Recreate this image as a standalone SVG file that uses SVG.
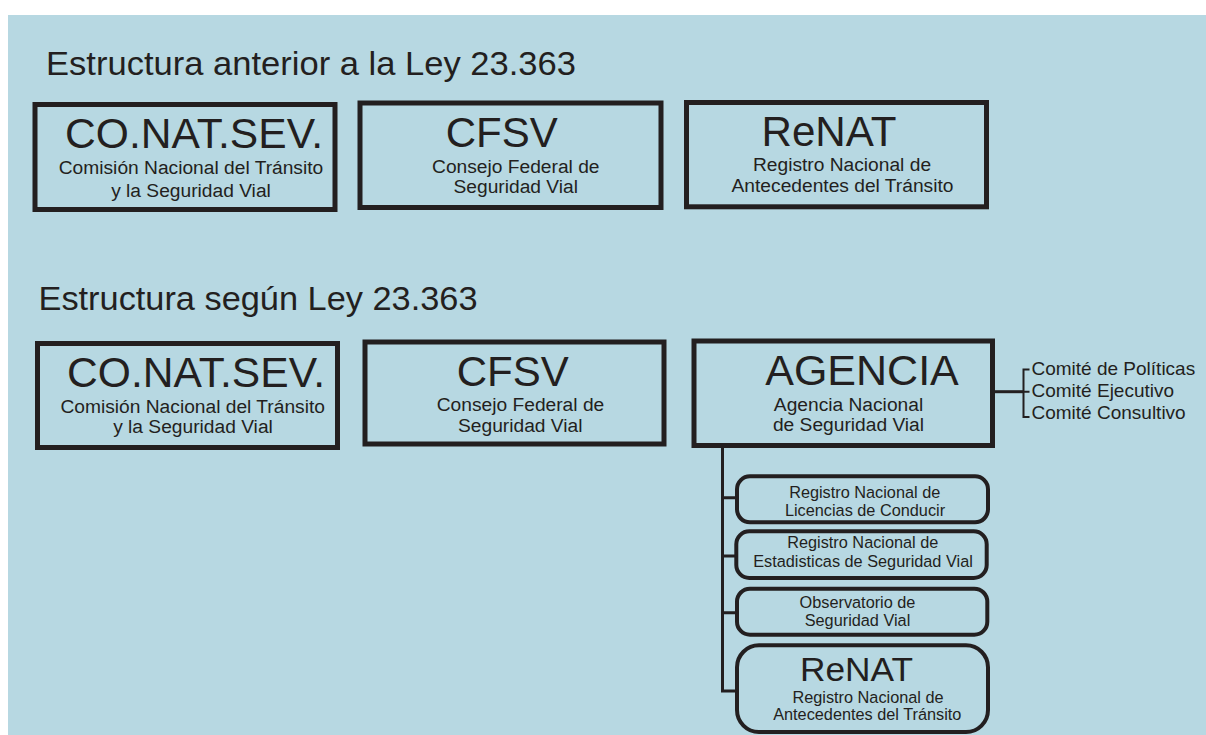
<svg xmlns="http://www.w3.org/2000/svg" width="1206" height="735" viewBox="0 0 1206 735">
<style>
text{font-family:"Liberation Sans",Arial,sans-serif;fill:#231f20;}
.title{font-size:34px;}
.big{font-size:42px;text-anchor:middle;}
.sub{font-size:19.2px;text-anchor:middle;}
.small{font-size:16.3px;text-anchor:middle;}
.com{font-size:19px;}
.box{fill:none;stroke:#231f20;stroke-width:5;}
.rbox{fill:none;stroke:#231f20;stroke-width:4;}
.conn{fill:none;stroke:#231f20;stroke-width:3;}
.brk{fill:none;stroke:#231f20;stroke-width:2;}
</style>
<rect x="0" y="0" width="1206" height="735" fill="#ffffff"/>
<rect x="8" y="15" width="1198" height="720" fill="#b7d8e2"/>

<text id="title1" class="title" x="46" y="75" textLength="530" lengthAdjust="spacingAndGlyphs">Estructura anterior a la Ley 23.363</text>
<text id="title2" class="title" x="38.5" y="310" textLength="439" lengthAdjust="spacingAndGlyphs">Estructura según Ley 23.363</text>

<g id="conn">
<path class="conn" d="M722.5 448 V691.5 M721 497.7 H737 M721 556 H737 M721 612.7 H737 M721 691 H737"/>
<path class="conn" d="M995 391.7 H1023.5"/>
<path class="brk" d="M1029.5 369.5 H1023.5 V417 H1029.5 M1023.5 391.7 H1029.5"/>
</g>

<g id="conatsev1">
<rect class="box" x="35" y="104.5" width="300" height="105"/>
<text class="big" x="194" y="148.3" textLength="258" lengthAdjust="spacingAndGlyphs">CO.NAT.SEV.</text>
<text class="sub" x="191" y="174">Comisión Nacional del Tránsito</text>
<text class="sub" x="191" y="196.7">y la Seguridad Vial</text>
</g>

<g id="cfsv1">
<rect class="box" x="360" y="103" width="301" height="104.5"/>
<text class="big" x="501.7" y="146.7">CFSV</text>
<text class="sub" x="515.8" y="172.7">Consejo Federal de</text>
<text class="sub" x="515.8" y="192.7">Seguridad Vial</text>
</g>

<g id="renat1">
<rect class="box" x="686.5" y="102.5" width="300" height="104.3"/>
<text class="big" x="829" y="146" textLength="135" lengthAdjust="spacingAndGlyphs">ReNAT</text>
<text class="sub" x="842" y="170.7">Registro Nacional de</text>
<text class="sub" x="842.5" y="191.7">Antecedentes del Tránsito</text>
</g>

<g id="conatsev2">
<rect class="box" x="37.5" y="343.5" width="300" height="104"/>
<text class="big" x="196" y="387.3" textLength="258" lengthAdjust="spacingAndGlyphs">CO.NAT.SEV.</text>
<text class="sub" x="192.7" y="412.7">Comisión Nacional del Tránsito</text>
<text class="sub" x="193" y="433.3">y la Seguridad Vial</text>
</g>

<g id="cfsv2">
<rect class="box" x="365" y="342" width="299" height="102"/>
<text class="big" x="512.7" y="386.3">CFSV</text>
<text class="sub" x="520.5" y="411">Consejo Federal de</text>
<text class="sub" x="520.3" y="432">Seguridad Vial</text>
</g>

<g id="agencia">
<rect class="box" x="694" y="341" width="298.5" height="104.5"/>
<text class="big" x="862" y="385" style="font-size:43px">AGENCIA</text>
<text class="sub" x="848.5" y="410.7">Agencia Nacional</text>
<text class="sub" x="848.5" y="430.7">de Seguridad Vial</text>
</g>

<g id="comites">
<text class="com" x="1031.5" y="375">Comité de Políticas</text>
<text class="com" x="1031.5" y="397">Comité Ejecutivo</text>
<text class="com" x="1031.5" y="419">Comité Consultivo</text>
</g>

<g id="licencias">
<rect class="rbox" x="737" y="476.3" width="251" height="46" rx="13"/>
<text class="small" x="864.7" y="498.3">Registro Nacional de</text>
<text class="small" x="865" y="516">Licencias de Conducir</text>
</g>

<g id="estadisticas">
<rect class="rbox" x="736.3" y="531.3" width="250.4" height="46.7" rx="13"/>
<text class="small" x="862.8" y="548.3">Registro Nacional de</text>
<text class="small" x="863" y="566.7">Estadisticas de Seguridad Vial</text>
</g>

<g id="observatorio">
<rect class="rbox" x="737" y="588.7" width="250.3" height="46" rx="13"/>
<text class="small" x="857.5" y="608.3">Observatorio de</text>
<text class="small" x="857.5" y="626">Seguridad Vial</text>
</g>

<g id="renat2">
<rect class="rbox" x="737" y="645.3" width="251" height="86.7" rx="22"/>
<text class="big" x="856.5" y="680.7" style="font-size:33px" textLength="113" lengthAdjust="spacingAndGlyphs">ReNAT</text>
<text class="small" x="868" y="702.7">Registro Nacional de</text>
<text class="small" x="867.3" y="720">Antecedentes del Tránsito</text>
</g>
</svg>
